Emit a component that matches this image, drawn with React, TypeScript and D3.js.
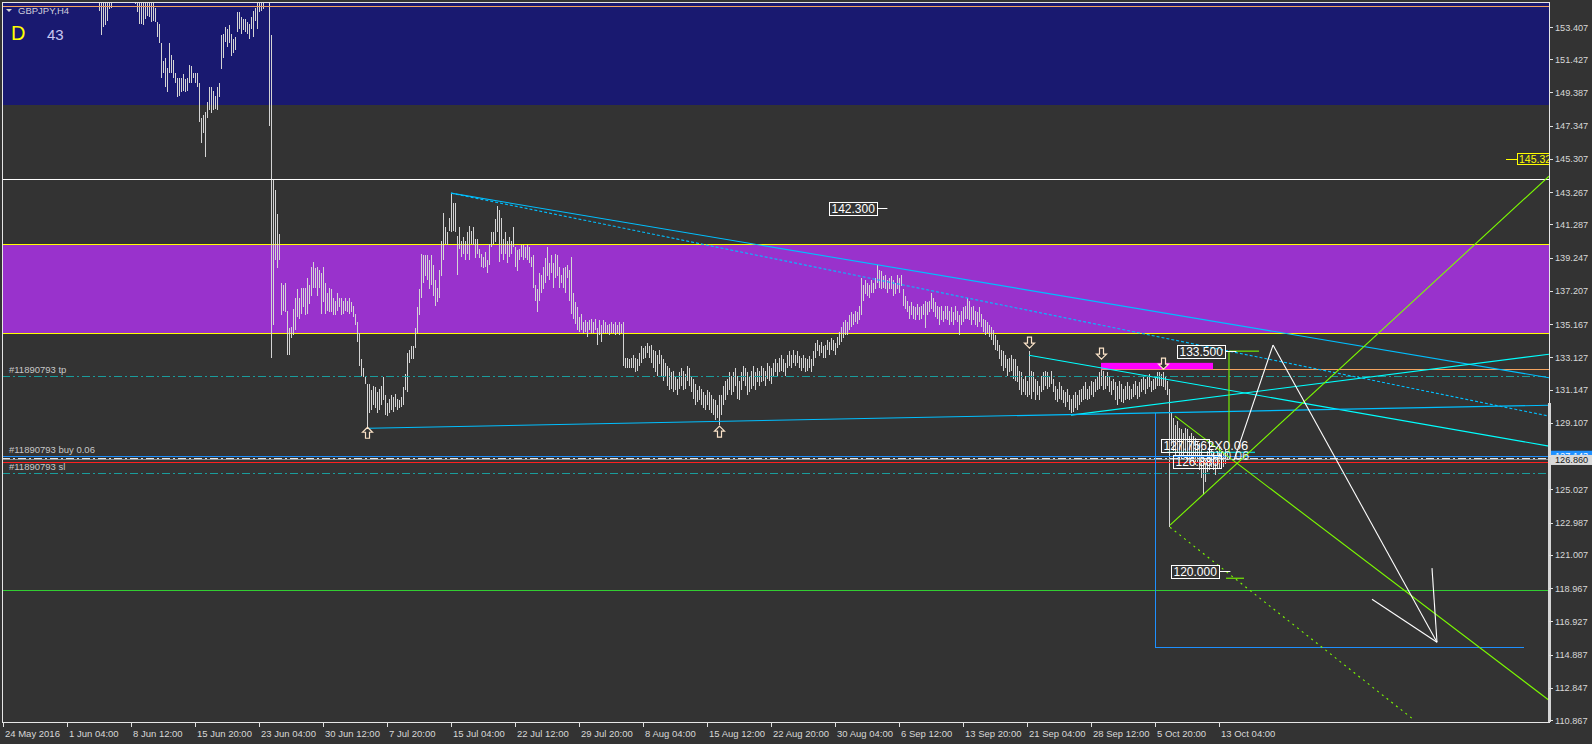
import { useEffect, useRef } from "react";
import * as d3 from "d3";

const W = 1592;
const H = 744;
const FONT = "'Liberation Sans', Arial, sans-serif";

// right price scale labels
const priceTicks = [153.407, 151.427, 149.387, 147.347, 145.307, 143.267, 141.287, 139.247, 137.207, 135.167, 133.127,
  131.147, 129.107, 127.067, 125.027, 122.987, 121.007, 118.967, 116.927, 114.887, 112.847, 110.867];

// bottom time labels, one every 32 H4 bars
const timeLabels = ["24 May 2016", "1 Jun 04:00", "8 Jun 12:00", "15 Jun 20:00", "23 Jun 04:00", "30 Jun 12:00",
  "7 Jul 20:00", "15 Jul 04:00", "22 Jul 12:00", "29 Jul 20:00", "8 Aug 04:00", "15 Aug 12:00", "22 Aug 20:00",
  "30 Aug 04:00", "6 Sep 12:00", "13 Sep 20:00", "21 Sep 04:00", "28 Sep 12:00", "5 Oct 20:00", "13 Oct 04:00"];
const BARS_PER_LABEL = 32;

// GBPJPY H4 bars as [high, low], one list per label interval
const may24 = [
  [159.9,159.3],[160.2,159.6],[160.5,159.8],[160.3,159.7],[160.8,160.1],[161.2,160.4],[161.0,160.3],[160.7,160.0],
  [161.3,160.5],[161.8,161.0],[161.5,160.9],[161.9,161.2],[162.2,161.4],[161.8,161.1],[161.4,160.7],[161.6,160.9],
  [161.2,160.5],[160.9,160.2],[161.1,160.4],[160.6,159.9],[160.8,160.1],[161.3,160.6],[161.7,160.9],[161.4,160.8],
  [161.0,160.2],[160.5,159.7],[160.7,159.9],[160.1,159.3],[159.6,158.8],[159.2,158.4],[158.7,157.9],[158.9,158.1]];
const jun01 = [
  [158.4,157.6],[157.9,157.1],[158.2,157.5],[157.7,156.9],[157.3,156.5],[157.6,156.8],[157.9,157.1],[158.3,157.5],
  [157.8,157.0],[157.4,156.6],[157.0,156.2],[156.8,156.0],[157.1,156.3],[156.6,155.8],[156.9,156.1],[156.4,155.6],
  [155.8,154.4],[155.3,152.9],[155.4,153.4],[155.5,153.5],[155.6,153.8],[156.0,154.5],[156.2,154.6],[156.5,155.5],
  [156.8,155.9],[157.1,156.2],[156.7,155.8],[156.9,156.0],[157.2,156.3],[156.8,155.9],[156.4,155.5],[156.6,155.7]];
const jun08 = [
  [156.9,155.6],[156.5,155.3],[156.2,154.8],[156.0,154.3],[155.6,153.6],[155.8,153.6],[155.4,153.5],[155.6,153.9],
  [155.7,154.1],[155.9,154.0],[155.5,153.7],[155.6,153.8],[154.6,153.7],[153.7,152.8],[153.6,152.4],[152.4,150.3],
  [151.3,150.6],[151.5,149.7],[150.9,149.4],[152.4,150.6],[151.7,150.6],[151.4,150.3],[150.6,150.0],[150.3,149.1],
  [150.3,149.2],[150.3,149.4],[150.5,149.5],[150.2,149.4],[150.3,149.5],[151.1,150.0],[151.0,150.0],[150.6,150.3]];
const jun15 = [
  [150.6,150.0],[150.6,149.7],[150.0,147.6],[147.8,146.3],[148.0,146.9],[148.2,145.4],[148.8,147.8],[149.7,148.3],
  [149.7,148.1],[149.5,148.3],[149.2,148.4],[149.7,148.3],[150.0,149.1],[152.9,150.8],[153.0,151.5],[153.4,152.5],
  [153.3,152.2],[153.5,152.4],[153.0,151.6],[152.7,151.8],[152.8,152.0],[154.3,153.1],[154.3,153.3],[154.0,153.0],
  [153.9,153.2],[153.9,153.1],[153.7,153.0],[153.6,152.7],[154.0,153.3],[154.4,152.8],[154.6,153.8],[155.0,153.3]];
const jun23 = [
  [155.6,154.3],[155.9,154.4],[156.3,154.5],[157.5,155.6],[160.2,156.8],[159.8,147.3],[152.9,133.1],[144.0,135.1],
  [143.4,139.1],[141.9,138.6],[140.7,139.1],[137.7,135.7],[137.6,136.0],[137.7,135.9],[136.0,133.3],[134.9,133.3],
  [135.0,134.3],[136.1,134.5],[136.8,134.8],[137.3,135.6],[136.8,135.5],[137.4,135.8],[137.4,136.2],[137.4,135.7],
  [138.0,135.8],[137.6,136.4],[138.7,136.9],[139.0,137.4],[138.6,137.4],[138.7,136.9],[138.5,137.4],[138.3,135.8]];
const jun30 = [
  [138.7,136.5],[137.7,135.8],[137.1,136.0],[137.4,135.9],[137.3,135.9],[136.8,135.7],[136.6,135.7],[137.1,136.0],
  [136.8,136.2],[136.8,135.7],[136.6,135.8],[136.8,136.0],[136.6,135.9],[136.8,135.8],[136.5,135.9],[136.3,135.6],
  [135.8,135.1],[135.3,134.1],[134.6,132.6],[133.0,132.0],[132.5,131.9],[132.0,131.5],[131.5,128.7],[131.5,129.7],
  [131.1,129.9],[131.4,130.2],[131.3,130.0],[131.0,129.7],[131.2,129.9],[131.4,130.2],[131.9,130.5],[130.8,129.6]];
const jul07 = [
  [130.3,129.5],[130.6,129.7],[130.8,129.9],[130.7,129.8],[130.9,130.1],[130.6,129.9],[130.5,130.0],[130.7,130.1],
  [131.3,130.2],[132.1,131.1],[133.4,131.0],[133.6,132.8],[133.8,133.0],[133.8,133.0],[134.9,133.7],[136.2,134.6],
  [137.3,135.7],[139.5,136.8],[139.4,137.7],[139.4,138.1],[139.4,137.9],[139.1,137.3],[139.4,137.6],[138.8,136.9],
  [137.9,136.3],[137.4,136.5],[138.5,136.8],[140.3,138.1],[142.0,139.1],[141.1,140.1],[140.8,140.0],[141.7,140.9]];
const jul15 = [
  [143.2,140.8],[142.6,140.9],[142.6,140.8],[140.6,138.2],[141.1,139.8],[140.3,139.3],[140.5,139.5],[140.3,139.1],
  [140.8,139.5],[141.2,139.1],[140.9,140.1],[141.1,140.0],[140.4,139.2],[140.4,139.5],[139.8,139.2],[139.5,138.7],
  [139.3,138.6],[139.6,138.7],[139.1,138.3],[140.1,138.8],[140.8,139.9],[140.8,140.1],[141.6,140.2],[142.4,140.8],
  [142.2,139.0],[141.7,139.5],[140.4,139.1],[140.8,139.5],[140.3,138.9],[140.5,139.3],[140.3,139.5],[141.1,139.9]];
const jul22 = [
  [139.9,138.7],[139.7,138.4],[139.8,139.1],[140.0,139.3],[140.0,139.1],[139.9,139.2],[140.0,139.1],[139.9,138.9],
  [139.3,138.7],[139.4,137.4],[137.6,136.6],[137.3,135.9],[138.3,136.6],[138.2,137.1],[138.7,137.3],[139.2,137.7],
  [139.9,138.1],[138.9,137.9],[139.4,138.3],[138.9,137.4],[139.5,138.0],[139.4,138.1],[138.7,137.4],[138.2,137.7],
  [138.6,137.4],[138.7,137.1],[138.8,138.0],[138.5,136.6],[139.3,135.8],[137.1,135.5],[136.5,135.2],[136.2,134.8]];
const jul29 = [
  [135.6,134.7],[135.8,134.8],[135.3,134.6],[135.4,134.7],[135.3,134.4],[135.4,134.8],[135.5,134.6],[135.3,134.6],
  [135.5,134.8],[134.9,133.9],[135.4,134.5],[135.1,134.1],[135.4,134.6],[135.3,134.6],[135.1,134.6],[135.2,134.5],
  [135.3,134.6],[135.2,134.6],[135.3,134.5],[135.1,134.6],[135.3,134.5],[135.2,134.6],[135.3,132.6],[133.1,132.5],
  [133.1,132.5],[133.0,132.5],[133.1,132.5],[133.3,132.5],[133.1,132.2],[133.0,132.3],[133.4,132.6],[133.8,132.8]];
const aug08 = [
  [133.7,133.0],[133.8,133.1],[134.0,133.4],[133.8,133.1],[133.9,132.8],[133.6,132.5],[133.5,132.2],[133.3,132.0],
  [133.6,132.7],[133.3,131.9],[133.0,131.7],[132.8,132.0],[132.6,131.4],[132.5,131.1],[132.2,131.2],[132.3,131.0],
  [132.0,131.1],[131.8,130.8],[132.2,131.2],[132.5,131.4],[132.3,131.1],[132.1,131.2],[132.6,131.7],[132.5,131.4],
  [132.0,131.0],[131.8,130.6],[131.5,130.2],[131.1,130.4],[131.4,130.5],[131.2,130.2],[131.0,130.0],[130.8,129.9]];
const aug15 = [
  [131.1,130.2],[131.0,129.9],[130.8,129.7],[130.6,129.6],[130.5,129.3],[130.2,129.4],[130.8,129.0],[130.8,129.6],
  [131.4,130.2],[131.7,130.5],[131.8,130.8],[132.2,131.1],[132.0,130.8],[132.2,131.0],[132.5,131.4],[132.0,130.6],
  [131.7,130.5],[132.2,131.1],[132.6,131.7],[132.5,131.4],[132.2,130.8],[132.0,131.0],[132.3,131.2],[132.6,131.4],
  [132.2,131.1],[132.5,131.6],[132.3,131.4],[132.6,131.6],[132.5,131.7],[132.3,131.4],[132.8,131.8],[132.6,131.7]];
const aug22 = [
  [132.5,131.5],[132.8,132.0],[133.0,132.2],[132.8,132.0],[133.1,132.2],[133.3,132.3],[133.0,132.2],[132.8,132.0],
  [133.3,132.5],[133.5,132.6],[133.3,132.5],[133.6,132.8],[133.3,132.6],[133.5,132.8],[133.2,132.5],[133.1,132.3],
  [133.3,132.5],[133.1,132.2],[133.0,132.3],[133.2,132.5],[133.0,132.2],[133.5,132.6],[134.0,133.1],[134.2,133.5],
  [133.9,133.2],[134.1,133.4],[133.8,133.1],[133.9,133.1],[134.2,133.6],[134.1,133.3],[134.3,133.6],[134.2,133.5]];
const aug30 = [
  [134.0,133.3],[134.4,133.7],[134.7,133.9],[135.0,134.1],[135.3,134.3],[135.4,134.5],[135.3,134.5],[135.7,134.8],
  [135.9,135.0],[135.8,135.1],[136.0,135.3],[135.9,135.2],[136.3,135.4],[138.0,135.7],[137.6,136.6],[137.9,137.0],
  [137.7,136.9],[137.6,136.8],[137.9,137.1],[137.7,137.1],[138.0,137.3],[138.8,137.7],[138.5,137.4],[138.4,137.3],
  [138.1,137.4],[138.2,137.3],[137.9,137.1],[138.0,137.3],[138.1,137.3],[137.9,136.9],[137.7,137.0],[138.2,137.3]];
const sep06 = [
  [138.0,137.1],[138.2,137.5],[137.3,136.3],[136.9,136.1],[136.6,135.9],[136.3,135.5],[136.5,135.7],[136.3,135.5],
  [136.2,135.4],[136.4,135.7],[136.2,135.4],[136.3,135.5],[136.4,135.7],[136.6,134.9],[136.5,135.7],[136.6,135.9],
  [137.1,136.1],[136.8,135.9],[136.5,135.6],[136.3,135.5],[136.2,135.1],[136.3,135.4],[136.0,135.3],[136.3,135.5],
  [136.3,135.4],[136.0,135.1],[136.2,135.3],[135.9,135.1],[136.3,135.4],[136.0,135.3],[135.7,134.5],[136.0,135.1]];
const sep13 = [
  [136.2,135.3],[136.3,135.5],[136.8,135.5],[136.6,135.4],[136.2,135.1],[136.3,135.4],[136.0,135.1],[135.9,135.0],
  [136.2,135.3],[135.8,135.0],[135.5,134.7],[135.4,134.5],[135.3,134.6],[135.1,134.4],[135.0,134.2],[134.8,133.9],
  [134.5,133.6],[134.2,133.5],[133.9,133.0],[133.6,132.6],[133.5,132.3],[133.3,132.5],[133.0,132.0],[133.1,132.2],
  [133.3,132.3],[133.0,131.8],[133.0,131.7],[132.6,131.6],[132.3,131.1],[132.2,130.8],[131.8,131.0],[132.0,130.8]];
const sep21 = [
  [131.7,130.7],[133.5,130.8],[132.3,130.6],[132.2,131.0],[131.8,130.5],[131.7,130.8],[131.4,130.5],[132.0,131.0],
  [132.2,131.1],[132.3,131.4],[132.2,131.2],[132.0,131.3],[132.3,131.5],[131.8,131.0],[131.4,130.5],[131.2,130.4],
  [131.6,130.6],[131.4,130.5],[131.1,130.3],[131.0,130.1],[131.2,130.4],[130.8,129.9],[130.6,129.7],[130.8,129.8],
  [131.0,130.0],[130.8,129.9],[131.1,130.2],[131.2,130.4],[131.4,130.5],[131.6,130.6],[131.2,130.5],[131.4,130.6]];
const sep28 = [
  [131.7,130.8],[131.6,130.7],[131.8,131.0],[132.0,131.1],[132.2,131.2],[132.8,131.4],[132.3,131.1],[132.0,131.2],
  [132.2,131.4],[131.9,131.0],[131.7,130.8],[131.8,131.1],[131.6,130.5],[131.4,130.2],[131.7,130.6],[131.5,130.4],
  [131.2,130.3],[131.4,130.5],[131.6,130.6],[131.4,130.5],[131.2,130.6],[131.5,130.7],[131.7,130.8],[131.4,130.6],
  [131.6,130.7],[131.8,131.0],[132.0,131.1],[131.8,130.9],[131.9,131.2],[132.1,131.3],[131.7,131.0],[131.8,131.1]];
const oct05 = [
  [132.0,131.2],[132.2,131.4],[132.2,131.4],[132.1,131.4],[132.2,131.3],[131.9,131.1],[131.7,130.8],[131.2,122.7],
  [129.7,127.7],[129.4,127.4],[129.0,127.1],[129.2,127.3],[128.8,126.9],[128.7,126.8],[128.5,127.1],[128.8,127.3],
  [128.7,126.9],[128.3,126.8],[128.5,126.9],[128.3,126.7],[128.2,126.5],[128.0,126.7],[127.9,126.2],[127.5,125.7],
  [127.1,124.7],[126.9,125.5],[127.4,126.1],[127.3,126.2],[127.5,126.4],[127.3,126.2],[127.1,125.9],[127.4,126.3]];
const oct13 = [[127.6,126.3],[127.4,126.5],[127.3,126.4],[127.5,126.6],[127.3,126.8]];

const weeks = [may24, jun01, jun08, jun15, jun23, jun30, jul07, jul15, jul22, jul29,
  aug08, aug15, aug22, aug30, sep06, sep13, sep21, sep28, oct05, oct13];

// drawn objects (bar index / price)
const zones = [
  { top: 160.0, bottom: 148.61, fill: "#191970", edge: "" },
  { top: 140.08, bottom: 134.61, fill: "#9932cc", edge: "#ffff00" },
];
const levels = [
  { price: 154.69, color: "#f4a460", dash: "", from: 0 },
  { price: 144.07, color: "#ffffff", dash: "", from: 0 },
  { price: 118.83, color: "#32cd32", dash: "", from: 0 },
  { price: 131.97, color: "#1a9c9c", dash: "8,3,2,3", from: 0 },
  { price: 127.09, color: "#1e90ff", dash: "", from: 0 },
  { price: 126.92, color: "#e6e6e6", dash: "8,3,2,3", from: 0 },
  { price: 126.86, color: "#8c8c8c", dash: "", from: 0 },
  { price: 126.72, color: "#ff2020", dash: "", from: 0 },
  { price: 126.0, color: "#1a9c9c", dash: "8,3,2,3", from: 0 },
  { price: 132.39, color: "#f4a460", dash: "", from: 549 },
];
const trends = [
  { i1: 224, p1: 143.21, i2: 773, p2: 131.88, color: "#00bfff", dash: "" },
  { i1: 224, p1: 143.21, i2: 773, p2: 129.52, color: "#00bfff", dash: "3,2" },
  { i1: 513, p1: 133.26, i2: 773, p2: 127.68, color: "#00ffff", dash: "" },
  { i1: 534, p1: 129.58, i2: 773, p2: 133.32, color: "#00ffff", dash: "" },
  { i1: 183, p1: 128.78, i2: 773, p2: 130.19, color: "#00bfff", dash: "" },
  { i1: 582, p1: 127.3, i2: 626, p2: 127.3, color: "#00ffff", dash: "" },
  { i1: 583.5, p1: 122.83, i2: 773, p2: 144.25, color: "#7cfc00", dash: "" },
  { i1: 586, p1: 129.52, i2: 773, p2: 112.08, color: "#7cfc00", dash: "" },
  { i1: 583.5, p1: 122.7, i2: 704.5, p2: 110.97, color: "#7cfc00", dash: "2,4" },
  { i1: 613, p1: 133.51, i2: 613, p2: 127.31, color: "#7cfc00", dash: "" },
  { i1: 613, p1: 133.51, i2: 628, p2: 133.51, color: "#7cfc00", dash: "" },
  { i1: 611.5, p1: 119.57, i2: 620.5, p2: 119.57, color: "#7cfc00", dash: "" },
  { i1: 615.5, p1: 126.82, i2: 635, p2: 133.88, color: "#ffffff", dash: "" },
  { i1: 635, p1: 133.88, i2: 717, p2: 115.64, color: "#ffffff", dash: "" },
  { i1: 684.5, p1: 118.28, i2: 717, p2: 115.64, color: "#ffffff", dash: "" },
  { i1: 714.5, p1: 120.19, i2: 717, p2: 115.64, color: "#ffffff", dash: "" },
];
const boxFrame = [[576, 129.76], [576, 115.33], [760, 115.33]];
const magenta = { i1: 549, i2: 605, top: 132.79, bottom: 132.4 };
const arrows = [
  { i: 182, price: 128.47, dir: 1 },
  { i: 358, price: 128.54, dir: 1 },
  { i: 513, price: 134.06, dir: -1 },
  { i: 549, price: 133.39, dir: -1 },
  { i: 580, price: 132.77, dir: -1 },
];
const priceTags = [
  { i: 413, price: 142.29, text: "142.300", tail: 10 },
  { i: 587, price: 133.5, text: "133.500", tail: 11 },
  { i: 584, price: 120.0, text: "120.000", tail: 11 },
  { i: 579, price: 127.71, text: "127.756", tail: 6 },
  { i: 585, price: 126.72, text: "126.880", tail: 0 },
];
const orderLabels = [
  { price: 131.97, text: "#11890793 tp" },
  { price: 127.09, text: "#11890793 buy 0.06" },
  { price: 126.0, text: "#11890793 sl" },
];

export default function App() {
  const svgRef = useRef<SVGSVGElement>(null);

  useEffect(() => {
    if (!svgRef.current) return;
    const svg = d3.select(svgRef.current);
    svg.selectAll("*").remove();

    const left = 2, top = 2, right = 1549, bottom = 722;
    const x = d3.scaleLinear().domain([0, 773]).range([3, 1549]);
    const y = d3.scaleLinear().domain([110.867, 153.407]).range([720, 27]);
    const crisp = (v: number) => Math.round(v) + 0.5;

    svg.append("rect").attr("width", W).attr("height", H).attr("fill", "#333333");

    svg.append("defs").append("clipPath").attr("id", "plot")
      .append("rect").attr("x", left).attr("y", top).attr("width", right - left).attr("height", bottom - top);
    const g = svg.append("g").attr("clip-path", "url(#plot)");

    // zones
    zones.forEach(z => {
      g.append("rect").attr("x", left).attr("width", right - left)
        .attr("y", Math.round(y(z.top))).attr("height", Math.round(y(z.bottom)) - Math.round(y(z.top)))
        .attr("fill", z.fill);
      if (z.edge) {
        [z.top, z.bottom].forEach(p => g.append("line").attr("x1", left).attr("x2", right)
          .attr("y1", crisp(y(p))).attr("y2", crisp(y(p))).attr("stroke", z.edge).attr("shape-rendering", "crispEdges"));
      }
    });

    // bars
    const bars: { i: number; h: number; l: number }[] = [];
    weeks.forEach((wk, k) => wk.forEach((b, j) => bars.push({ i: k * BARS_PER_LABEL + j, h: b[0], l: b[1] })));
    g.selectAll("line.bar").data(bars).enter().append("line")
      .attr("class", "bar")
      .attr("x1", d => crisp(x(d.i))).attr("x2", d => crisp(x(d.i)))
      .attr("y1", d => y(d.h)).attr("y2", d => y(d.l))
      .attr("stroke", "#d4d4d4").attr("stroke-width", 1).attr("shape-rendering", "crispEdges");

    // horizontal levels
    levels.forEach(lv => {
      g.append("line").attr("x1", lv.from ? x(lv.from) : left).attr("x2", right)
        .attr("y1", crisp(y(lv.price))).attr("y2", crisp(y(lv.price)))
        .attr("stroke", lv.color).attr("stroke-dasharray", lv.dash || null)
        .attr("shape-rendering", "crispEdges");
    });

    g.append("rect").attr("x", x(magenta.i1)).attr("width", x(magenta.i2) - x(magenta.i1))
      .attr("y", y(magenta.top)).attr("height", y(magenta.bottom) - y(magenta.top)).attr("fill", "#ff00ff");

    g.append("path")
      .attr("d", d3.line<number[]>().x(d => crisp(x(d[0]))).y(d => crisp(y(d[1])))(boxFrame))
      .attr("fill", "none").attr("stroke", "#1e90ff").attr("shape-rendering", "crispEdges");

    trends.forEach(t => {
      g.append("line").attr("x1", x(t.i1)).attr("y1", y(t.p1)).attr("x2", x(t.i2)).attr("y2", y(t.p2))
        .attr("stroke", t.color).attr("stroke-width", 1.1).attr("stroke-dasharray", t.dash || null);
    });

    // fractal arrows
    arrows.forEach(a => {
      const cx = x(a.i) + 0.5, cy = y(a.price), s = a.dir;
      const pts = [[0, -6], [5, -1], [2, -1], [2, 5], [-2, 5], [-2, -1], [-5, -1]]
        .map(p => [cx + p[0], cy + p[1] * s]);
      g.append("path").attr("d", "M" + pts.map(p => p.join(",")).join("L") + "Z")
        .attr("fill", "#333333").attr("stroke", "#fbe3c8").attr("stroke-width", 1.2);
    });

    // price tags with boxes
    priceTags.forEach(t => {
      const bx = x(t.i), cy = y(t.price);
      const txt = g.append("text").attr("x", bx + 2.5).attr("y", cy + 4.5).attr("fill", "#ffffff")
        .attr("font-family", FONT).attr("font-size", 12).text(t.text);
      const w = (txt.node() as SVGTextElement).getComputedTextLength() + 5;
      g.append("rect").attr("x", Math.round(bx) + 0.5).attr("y", Math.round(cy - 6.5) + 0.5)
        .attr("width", Math.round(w)).attr("height", 13).attr("fill", "none").attr("stroke", "#ffffff");
      if (t.tail) {
        g.append("line").attr("x1", bx + w).attr("x2", bx + w + t.tail).attr("y1", crisp(cy)).attr("y2", crisp(cy))
          .attr("stroke", "#ffffff");
      }
    });
    g.append("text").attr("x", x(602)).attr("y", y(127.43)).attr("fill", "#ffffff")
      .attr("font-family", FONT).attr("font-size", 13).text("2X0.06");
    g.append("text").attr("x", x(602.5)).attr("y", y(126.8)).attr("fill", "#ffffff").attr("opacity", 0.8)
      .attr("font-family", FONT).attr("font-size", 13).text("3X0.06");

    // order labels on the left
    orderLabels.forEach(o => {
      g.append("text").attr("x", 9).attr("y", y(o.price) - 3).attr("fill", "#c8c8c8")
        .attr("font-family", FONT).attr("font-size", 9.5).text(o.text);
    });

    // yellow price label at the right
    const yl = y(145.32);
    g.append("line").attr("x1", 1506).attr("x2", 1517).attr("y1", crisp(yl)).attr("y2", crisp(yl)).attr("stroke", "#ffff00");
    g.append("rect").attr("x", 1517.5).attr("y", Math.round(yl - 5.5) + 0.5).attr("width", 40).attr("height", 11)
      .attr("fill", "#333333").attr("stroke", "#ffff00");
    g.append("text").attr("x", 1519).attr("y", yl + 4.5).attr("fill", "#ffff00")
      .attr("font-family", FONT).attr("font-size", 10.5).text("145.32");

    // header text
    svg.append("path").attr("d", "M6,9L12,9L9,12Z").attr("fill", "#d8d8d8");
    svg.append("text").attr("x", 18).attr("y", 14).attr("fill", "#cfcfdc")
      .attr("font-family", FONT).attr("font-size", 9.5).text("GBPJPY,H4");
    svg.append("text").attr("x", 11).attr("y", 40).attr("fill", "#ffff00")
      .attr("font-family", FONT).attr("font-size", 20).text("D");
    svg.append("text").attr("x", 47).attr("y", 40).attr("fill", "#c8c8f0")
      .attr("font-family", FONT).attr("font-size", 15).text("43");

    // frame
    svg.append("rect").attr("x", left + 0.5).attr("y", top + 0.5).attr("width", right - left).attr("height", bottom - top)
      .attr("fill", "none").attr("stroke", "#e6e6e6").attr("shape-rendering", "crispEdges");
    svg.append("rect").attr("x", 1548).attr("y", 403).attr("width", 3).attr("height", bottom - 403).attr("fill", "#d6d6d6");

    // right price axis
    priceTicks.forEach(t => {
      const ty = crisp(y(t));
      svg.append("line").attr("x1", right).attr("x2", right + 4).attr("y1", ty).attr("y2", ty)
        .attr("stroke", "#e0e0e0").attr("shape-rendering", "crispEdges");
      svg.append("text").attr("x", 1555).attr("y", y(t) + 3.5).attr("fill", "#d8d8d8")
        .attr("font-family", FONT).attr("font-size", 9.2).text(t.toFixed(3));
    });
    const buyY = y(127.09), bidY = y(126.86);
    svg.append("rect").attr("x", 1551).attr("y", buyY - 5).attr("width", 41).attr("height", 9).attr("fill", "#1e90ff");
    svg.append("text").attr("x", 1555).attr("y", buyY + 3).attr("fill", "#ffffff")
      .attr("font-family", FONT).attr("font-size", 9.2).text("127.143");
    svg.append("rect").attr("x", 1551).attr("y", bidY - 4.5).attr("width", 41).attr("height", 10).attr("fill", "#d9d9d9");
    svg.append("text").attr("x", 1555).attr("y", bidY + 3.5).attr("fill", "#1a1a1a")
      .attr("font-family", FONT).attr("font-size", 9.2).text("126.860");

    // bottom time axis
    timeLabels.forEach((lab, k) => {
      const tx = crisp(x(k * BARS_PER_LABEL));
      svg.append("line").attr("x1", tx).attr("x2", tx).attr("y1", bottom).attr("y2", bottom + 5)
        .attr("stroke", "#e0e0e0").attr("shape-rendering", "crispEdges");
      svg.append("text").attr("x", tx + 1.5).attr("y", 737).attr("fill", "#d8d8d8")
        .attr("font-family", FONT).attr("font-size", 9.5).text(lab);
    });
  }, []);

  return (
    <svg ref={svgRef} width={W} height={H} style={{ position: "absolute", left: 0, top: 0, display: "block" }}></svg>
  );
}
